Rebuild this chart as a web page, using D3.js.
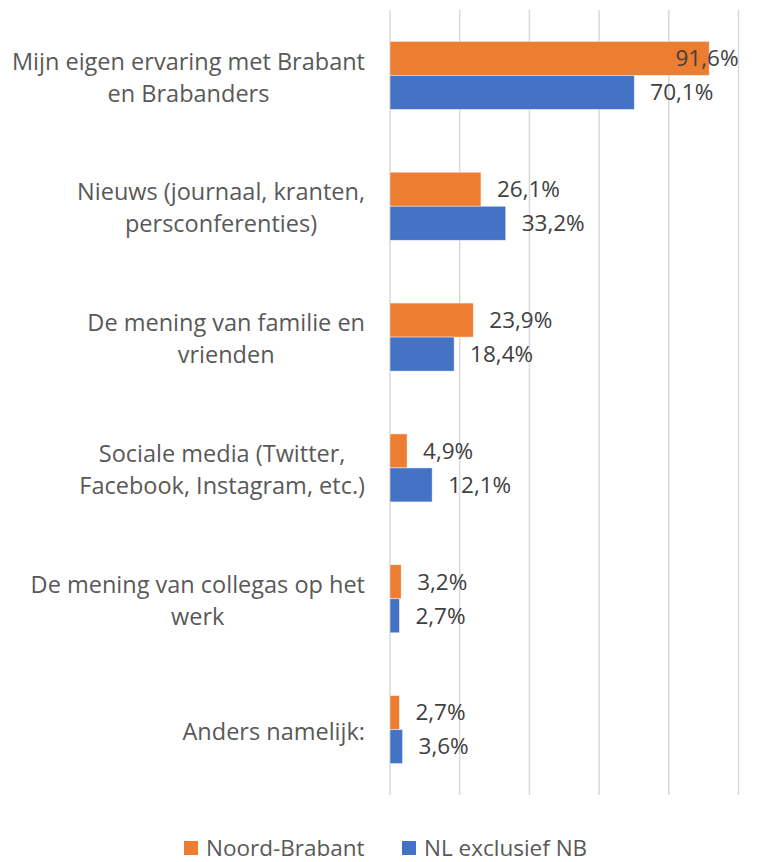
<!DOCTYPE html>
<html>
<head>
<meta charset="utf-8">
<script src="https://cdn.jsdelivr.net/npm/d3@7"></script>
<style>
  body { margin: 0; background: #fff; }
  svg { font-family: "Open Sans", sans-serif; }
</style>
</head>
<body>
<svg id="chart" width="762" height="862"></svg>
<script>
// categories, each label split on the lines the reference uses
var categories = [
  ["Mijn eigen ervaring met Brabant", "en Brabanders"],
  ["Nieuws (journaal, kranten,", "persconferenties)"],
  ["De mening van familie en", "vrienden"],
  ["Sociale media (Twitter,", "Facebook, Instagram, etc.)"],
  ["De mening van collegas op het", "werk"],
  ["Anders namelijk:"]
];
var series = ["Noord-Brabant", "NL exclusief NB"];
var noordBrabant = [91.6, 26.1, 23.9, 4.9, 3.2, 2.7];
var nlExclNB = [70.1, 33.2, 18.4, 12.1, 2.7, 3.6];
var xTicks = [0, 20, 40, 60, 80, 100];

var colors = { "Noord-Brabant": "#ED7D31", "NL exclusief NB": "#4472C4" };
var fontSize = 22.5;

var svg = d3.select("#chart");
var plotLeft = 390, plotRight = 738.5, plotTop = 10, plotBottom = 795;

var x = d3.scaleLinear().domain([0, 100]).range([plotLeft, plotRight]);
var y = d3.scaleBand().domain(d3.range(categories.length))
    .range([plotTop, plotBottom]).paddingInner(0.48).paddingOuter(0.24);
var ySub = d3.scaleBand().domain(series).range([0, y.bandwidth()]);

// gridlines
svg.append("g").selectAll("line")
  .data(xTicks)
  .enter().append("line")
    .attr("x1", function(d) { return x(d); })
    .attr("x2", function(d) { return x(d); })
    .attr("y1", plotTop).attr("y2", plotBottom)
    .attr("stroke", "#D9D9D9")
    .attr("stroke-width", 1.5);

var rows = categories.map(function(c, i) {
  return [
    { cat: i, name: "Noord-Brabant", value: noordBrabant[i] },
    { cat: i, name: "NL exclusief NB", value: nlExclNB[i] }
  ];
});

var group = svg.append("g").selectAll("g")
  .data(rows)
  .enter().append("g")
    .attr("transform", function(d, i) { return "translate(0," + y(i) + ")"; });

group.selectAll("rect")
  .data(function(d) { return d; })
  .enter().append("rect")
    .attr("x", x(0))
    .attr("y", function(d) { return ySub(d.name); })
    .attr("width", function(d) { return x(d.value) - x(0); })
    .attr("height", ySub.bandwidth())
    .attr("fill", function(d) { return colors[d.name]; })
    .attr("stroke", "rgba(255,255,255,0.6)")
    .attr("stroke-width", 0.75);

group.selectAll("text")
  .data(function(d) { return d; })
  .enter().append("text")
    .attr("y", function(d) { return ySub(d.name) + ySub.bandwidth() / 2; })
    .attr("dy", "0.35em")
    .attr("font-size", fontSize)
    .attr("fill", "#404040")
    .text(function(d) { return d3.format(".1f")(d.value).replace(".", ",") + "%"; })
    .attr("x", function(d) {
      var w = this.getComputedTextLength();
      return Math.min(x(d.value) + 16, plotRight - w);
    });

// category labels, centred block with its right edge at 365
var labelRight = 365, lineH = 32;
categories.forEach(function(lines, i) {
  var t = svg.append("text")
    .attr("font-size", 23.5)
    .attr("fill", "#595959")
    .attr("text-anchor", "middle");
  var cy = y(i) + y.bandwidth() / 2 + 2;
  lines.forEach(function(l, j) {
    t.append("tspan")
      .attr("y", cy + (j - (lines.length - 1) / 2) * lineH)
      .attr("dy", "0.35em")
      .text(l);
  });
  var maxW = 0;
  t.selectAll("tspan").each(function() { maxW = Math.max(maxW, this.getComputedTextLength()); });
  t.selectAll("tspan").attr("x", labelRight - maxW / 2);
});

// legend
var legend = svg.append("g");
var lx = [184, 402];
series.forEach(function(s, i) {
  legend.append("rect")
    .attr("x", lx[i]).attr("y", 841)
    .attr("width", 14).attr("height", 14)
    .attr("fill", colors[s]);
  legend.append("text")
    .attr("x", lx[i] + 22).attr("y", 848)
    .attr("dy", "0.35em")
    .attr("font-size", fontSize)
    .attr("fill", "#595959")
    .text(s);
});
</script>
</body>
</html>
